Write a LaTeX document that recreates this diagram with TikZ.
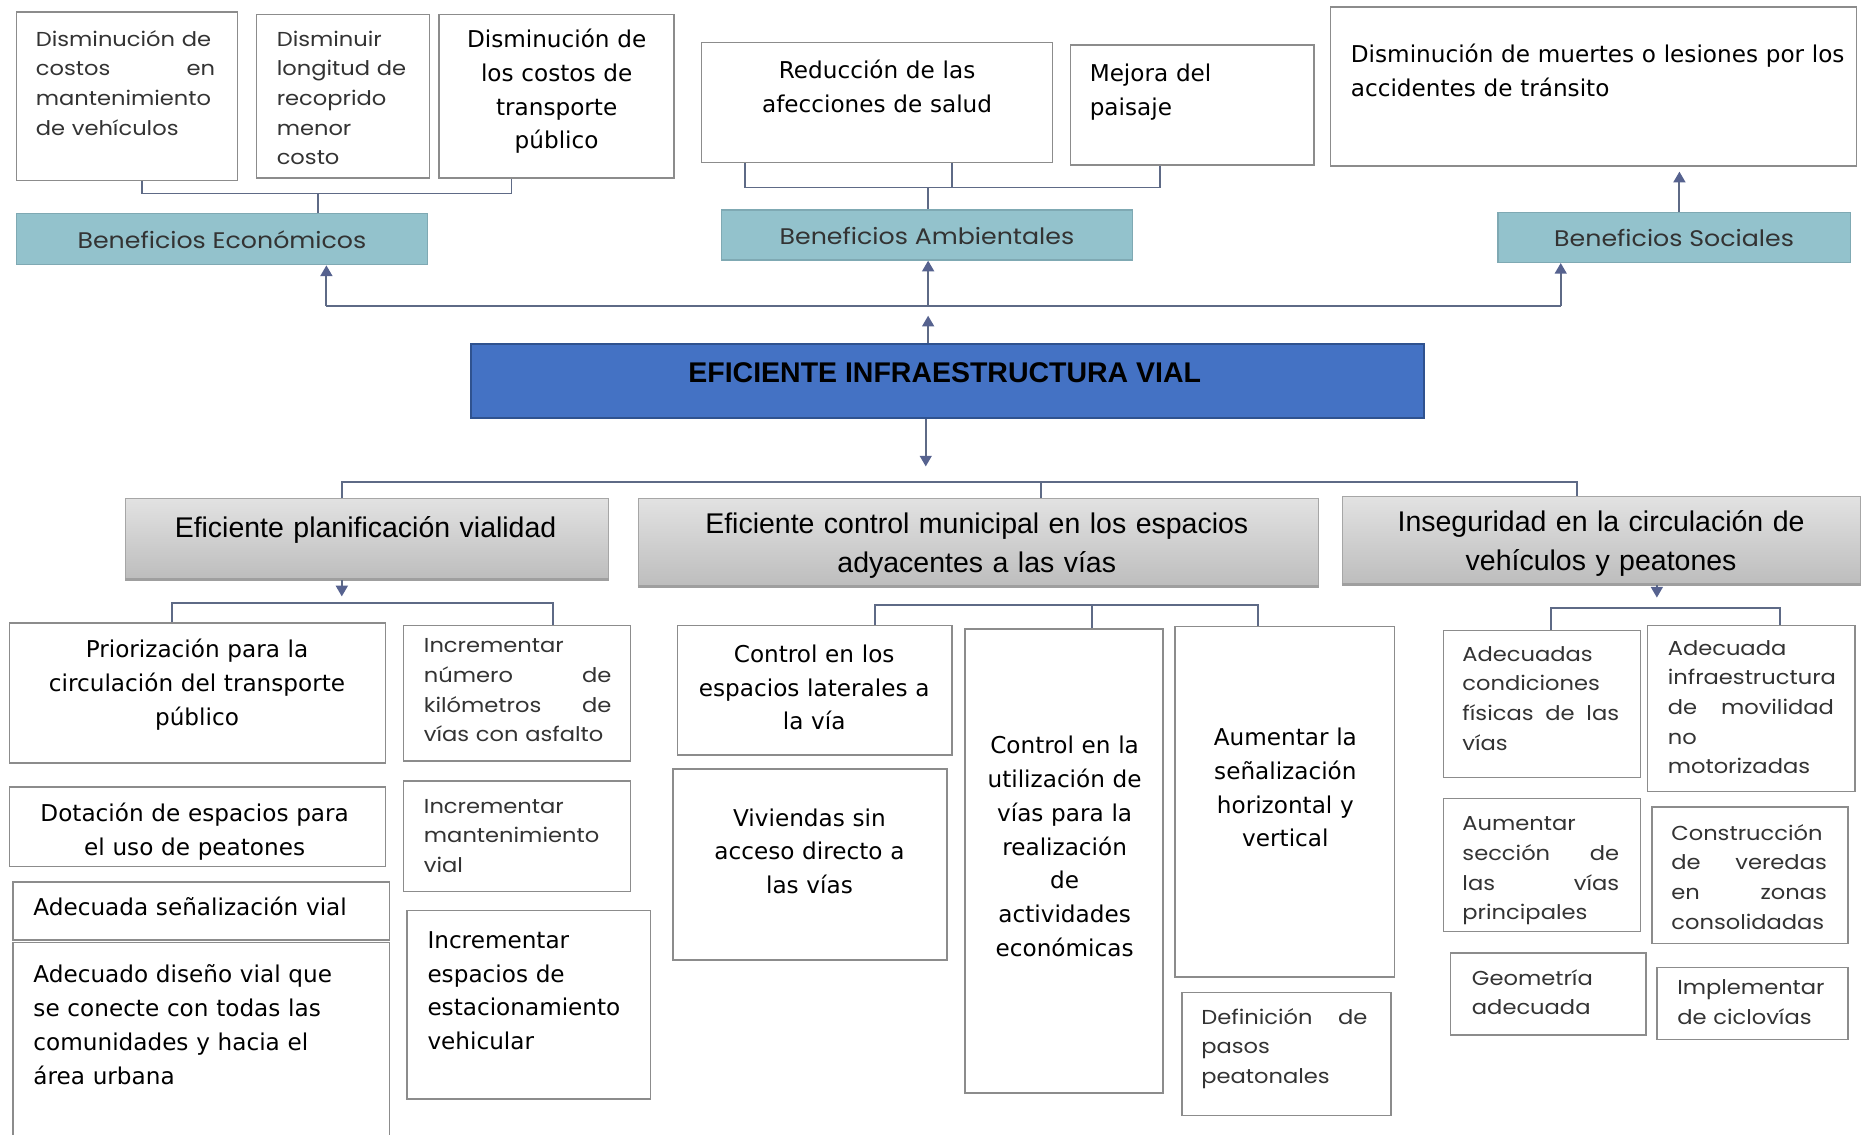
\documentclass[tikz,border=0pt]{standalone}
\usepackage{fontspec}
\setmainfont{Liberation Sans}
\newfontfamily\gothic[FakeStretch=1.12]{Poppins}
\newfontfamily\verd{DejaVu Sans}
\usetikzlibrary{arrows.meta}
\definecolor{linkc}{HTML}{5E6A86}
\definecolor{arrc}{HTML}{56628F}
\definecolor{boxc}{HTML}{8C8C8C}
\definecolor{benefill}{HTML}{93C2CC}
\definecolor{benedraw}{HTML}{7FA9B3}
\definecolor{mainfill}{HTML}{4472C4}
\definecolor{maindraw}{HTML}{2F528F}
\definecolor{grayt}{HTML}{E2E2E2}
\definecolor{grayb}{HTML}{BDBDBD}
\definecolor{graydraw}{HTML}{A6A6A6}
\tikzset{
    box/.style={draw=boxc, line width=1.2pt, fill=white, inner sep=0pt},
    benefit/.style={draw=benedraw, line width=1.2pt, fill=benefill, inner sep=0pt,
        text height=17pt, text depth=1pt, font=\gothic\fontsize{19}{23}\selectfont, text=black!80},
    cause/.style={draw=graydraw, line width=1pt, top color=grayt, bottom color=grayb, inner sep=0pt},
    core/.style={draw=maindraw, line width=1.6pt, fill=mainfill, inner sep=0pt},
    vtxt/.style={inner sep=0pt, font=\verd\fontsize{19.5}{28.5}\selectfont},
    gtxt/.style={inner sep=0pt, font=\gothic\fontsize{17}{25}\selectfont, text=black!80},
    atxt/.style={inner sep=0pt, font=\fontsize{24}{33}\selectfont},
    link/.style={draw=linkc, line width=1.6pt},
    arr/.style={link, -{Triangle[width=10pt, length=9pt, color=arrc]}},
    shadowline/.style={draw=gray!75, line width=2.5pt},
}

\begin{document}
\begin{tikzpicture}[x=1pt, y=-1pt]
        \useasboundingbox (0,0) rectangle (1568,956);

        \node[box, minimum width=186, minimum height=142] (costos) at (107,81) {};
        \node[gtxt, text width=151, align=left, anchor=base west] (costostxt) at (30,39) {Disminución de\\ costos\hfill en\\ mantenimiento\\ de vehículos};
        \node[box, minimum width=146, minimum height=138] (longitud) at (289,81) {};
        \node[gtxt, text width=125, align=left, anchor=base west] (longitudtxt) at (233,39) {Disminuir\\ longitud de\\ recoprido\\ menor\\ costo};
        \node[box, minimum width=198, minimum height=138] (transporte) at (469,81) {};
        \node[vtxt, text width=190, align=center, anchor=base] (transportetxt) at (469,40) {Disminución de\\ los costos de\\ transporte\\ público};

        \node[box, minimum width=296, minimum height=101] (salud) at (739,86.5) {};
        \node[vtxt, text width=280, align=center, anchor=base] (saludtxt) at (739,66) {Reducción de las\\ afecciones de salud};
        \node[box, minimum width=205, minimum height=101] (paisaje) at (1004.5,88.5) {};
        \node[vtxt, text width=180, align=left, anchor=base west] (paisajetxt) at (918,69) {Mejora del\\ paisaje};
        \node[box, minimum width=443, minimum height=134] (muertes) at (1342.5,73) {};
        \node[vtxt, text width=420, align=left, anchor=base west] (muertestxt) at (1138,53) {Disminución de muertes o lesiones por los\\ accidentes de tránsito};

        \node[benefit, minimum width=346, minimum height=43] (econ) at (187,201.5) {Beneficios Económicos};
        \node[benefit, minimum width=346, minimum height=42] (amb) at (781,198) {Beneficios Ambientales};
        \node[benefit, minimum width=297, minimum height=42] (soc) at (1410.5,200) {Beneficios Sociales};

        \node[core, minimum width=803, minimum height=62] (infra) at (798.5,321) {};
        \node[atxt, font=\bfseries\fontsize{24}{33}\selectfont, anchor=base] (infratxt) at (796,322.5) {EFICIENTE INFRAESTRUCTURA VIAL};

        \node[cause, minimum width=407, minimum height=68] (plan) at (309.5,454) {};
        \node[atxt, text width=400, align=center, anchor=base] (plantxt) at (308,452.5) {Eficiente planificación vialidad};
        \node[cause, minimum width=573, minimum height=74] (ctrl) at (824.5,457) {};
        \node[atxt, text width=560, align=center, anchor=base] (ctrltxt) at (823,449.5) {Eficiente control municipal en los espacios\\ adyacentes a las vías};
        \node[cause, minimum width=437, minimum height=74] (inseg) at (1349.5,455) {};
        \node[atxt, text width=430, align=center, anchor=base] (insegtxt) at (1349,447.5) {Inseguridad en la circulación de\\ vehículos y peatones};
        \draw[shadowline] (plan.south west) -- (plan.south east);
        \draw[shadowline] (ctrl.south west) -- (ctrl.south east);
        \draw[shadowline] (inseg.south west) -- (inseg.south east);

        \node[box, minimum width=317, minimum height=118] (prior) at (166.5,584) {};
        \node[vtxt, text width=300, align=center, anchor=base] (priortxt) at (166,554) {Priorización para la\\ circulación del transporte\\ público};
        \node[box, minimum width=317, minimum height=67] (dotac) at (166.5,696.5) {};
        \node[vtxt, text width=300, align=center, anchor=base] (dotactxt) at (164,692) {Dotación de espacios para\\ el uso de peatones};
        \node[box, minimum width=317, minimum height=49] (senal) at (169.5,767.5) {};
        \node[vtxt, text width=290, align=left, anchor=base west] (senaltxt) at (28,771) {Adecuada señalización vial};
        \node[box, minimum width=317, minimum height=176] (diseno) at (169.5,882) {};
        \node[vtxt, text width=290, align=left, anchor=base west] (disenotxt) at (28,828) {Adecuado diseño vial que\\ se conecte con todas las\\ comunidades y hacia el\\ área urbana};

        \node[box, minimum width=191, minimum height=114] (km) at (435.5,584) {};
        \node[gtxt, text width=158, align=left, anchor=base west] (kmtxt) at (357,550) {Incrementar\\ número\hfill de\\ kilómetros\hfill de\\ vías con asfalto};
        \node[box, minimum width=191, minimum height=93] (mant) at (435.5,704.5) {};
        \node[gtxt, text width=158, align=left, anchor=base west] (manttxt) at (357,685) {Incrementar\\ mantenimiento\\ vial};
        \node[box, minimum width=205, minimum height=159] (estac) at (445.5,846.5) {};
        \node[vtxt, text width=185, align=left, anchor=base west] (estactxt) at (360,799) {Incrementar\\ espacios de\\ estacionamiento\\ vehicular};

        \node[box, minimum width=231, minimum height=109] (lateral) at (686.5,581.5) {};
        \node[vtxt, text width=225, align=center, anchor=base] (lateraltxt) at (686,558) {Control en los\\ espacios laterales a\\ la vía};
        \node[box, minimum width=231, minimum height=161] (vivien) at (682.5,728.5) {};
        \node[vtxt, text width=225, align=center, anchor=base] (vivientxt) at (682,696) {Viviendas sin\\ acceso directo a\\ las vías};
        \node[box, minimum width=167, minimum height=391] (activ) at (896.5,725.5) {};
        \node[vtxt, text width=160, align=center, anchor=base] (activtxt) at (897,635) {Control en la\\ utilización de\\ vías para la\\ realización\\ de\\ actividades\\ económicas};
        \node[box, minimum width=185, minimum height=295] (senhv) at (1082.5,675.5) {};
        \node[vtxt, text width=180, align=center, anchor=base] (senhvtxt) at (1083,628) {Aumentar la\\ señalización\\ horizontal y\\ vertical};
        \node[box, minimum width=176, minimum height=104] (pasos) at (1084,888) {};
        \node[gtxt, text width=140, align=left, anchor=base west] (pasostxt) at (1012,863) {Definición\hfill de\\ pasos\\ peatonales};

        \node[box, minimum width=166, minimum height=124] (fisic) at (1299,593) {};
        \node[gtxt, text width=132, align=left, anchor=base west] (fisictxt) at (1232,557) {Adecuadas\\ condiciones\\ físicas\hfill de\hfill las\\ vías};
        \node[box, minimum width=175, minimum height=140] (nomot) at (1475.5,597) {};
        \node[gtxt, text width=140, align=left, anchor=base west] (nomottxt) at (1405,552) {Adecuada\\ infraestructura\\ de\hfill movilidad\\ no\\ motorizadas};
        \node[box, minimum width=166, minimum height=112] (seccion) at (1299,729) {};
        \node[gtxt, text width=132, align=left, anchor=base west] (secciontxt) at (1232,700) {Aumentar\\ sección\hfill de\\ las\hfill vías\\ principales};
        \node[box, minimum width=165, minimum height=115] (veredas) at (1474.5,737.5) {};
        \node[gtxt, text width=131, align=left, anchor=base west] (veredastxt) at (1408,708) {Construcción\\ de\hfill veredas\\ en\hfill zonas\\ consolidadas};
        \node[box, minimum width=165, minimum height=69] (geom) at (1304.5,837.5) {};
        \node[gtxt, text width=130, align=left, anchor=base west] (geomtxt) at (1240,830) {Geometría\\ adecuada};
        \node[box, minimum width=161, minimum height=61] (ciclo) at (1476.5,845.5) {};
        \node[gtxt, text width=130, align=left, anchor=base west] (ciclotxt) at (1413,838) {Implementar\\ de ciclovías};

        \coordinate (econbus) at (268,163);
        \coordinate (ambbus) at (782,158);
        \coordinate (busl) at (275,258);
        \coordinate (busm) at (782,258);
        \coordinate (busr) at (1315,258);
        \coordinate (down) at (780,393);
        \coordinate (causebus) at (877,406);
        \coordinate (planbus) at (300,508);
        \coordinate (ctrlbus) at (920,510);
        \coordinate (insegbus) at (1400,512);

        \draw[link] ([xshift=13pt]costos.south) |- (econbus) -| ([xshift=-38pt]transporte.south);
        \draw[link] (econbus) -- (econbus |- econ.north);
        \draw[link] ([xshift=-111pt]salud.south) |- (ambbus) -| ([xshift=-27.5pt]paisaje.south);
        \draw[link] ([xshift=63pt]salud.south) -- ([xshift=63pt]salud.south |- ambbus);
        \draw[link] (ambbus) -- (ambbus |- amb.north);
        \draw[arr, shorten >=4pt] ([xshift=4.5pt]soc.north) -- ([xshift=4.5pt]soc.north |- muertes.south);

        \draw[link] (busl) -- (busr);
        \draw[arr] (busl) -- (busl |- econ.south);
        \draw[arr] (busm) -- (busm |- amb.south);
        \draw[arr] (busr) -- (busr |- soc.south);
        \draw[arr] (infra.north -| busm) -- ([yshift=-8pt]busm);

        \draw[arr] (infra.south -| down) -- (down);
        \draw[link] ([xshift=-21.5pt]plan.north) |- (causebus) -| ([xshift=-20.5pt]inseg.north);
        \draw[link] (causebus) -- (causebus |- ctrl.north);

        \draw[arr] ([xshift=-21.5pt]plan.south) -- ++(0,14);
        \draw[link] ([xshift=-21.5pt]prior.north) |- (planbus) -| ([xshift=30.5pt]km.north);
        \draw[link] ([xshift=50.5pt]lateral.north) |- (ctrlbus) -| ([xshift=-22.5pt]senhv.north);
        \draw[link] (ctrlbus) -- (ctrlbus |- activ.north);
        \draw[arr] ([xshift=46.5pt]inseg.south) -- ++(0,11);
        \draw[link] ([xshift=8pt]fisic.north) |- (insegbus) -| ([xshift=24.5pt]nomot.north);
\end{tikzpicture}
\end{document}
